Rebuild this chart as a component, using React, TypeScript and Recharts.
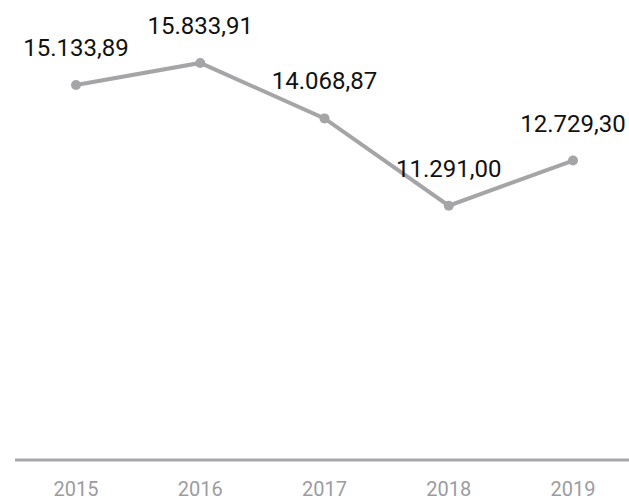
import React from "react";
import { LineChart, Line, XAxis, YAxis, LabelList } from "recharts";

const years = ["2015", "2016", "2017", "2018", "2019"];
const values = [15133.89, 15833.91, 14068.87, 11291.0, 12729.3];
const valueLabels = ["15.133,89", "15.833,91", "14.068,87", "11.291,00", "12.729,30"];

const data = years.map((y, i) => ({ year: y, value: values[i], label: valueLabels[i] }));

const FONT = 'Roboto, "Liberation Sans", sans-serif';

export default function App() {
  return (
    <div style={{ position: "absolute", left: 0, top: 0, width: 629, height: 502 }}>
      <LineChart
        width={629}
        height={502}
        data={data}
        margin={{ top: 42, right: 0, bottom: 0, left: 15 }}
      >
        <XAxis
          dataKey="year"
          axisLine={{ stroke: "#a8a8ab", strokeWidth: 3 }}
          tickLine={false}
          tickSize={6}
          tickMargin={16}
          height={42}
          interval={0}
          padding={{ left: 61, right: 56 }}
          tick={{ fill: "#9c9ca0", fontSize: 20, fontFamily: FONT }}
        />
        <YAxis hide domain={[3200, 16500]} />
        <Line
          dataKey="value"
          stroke="#a5a5a8"
          strokeWidth={4}
          dot={{ r: 5, fill: "#a5a5a8", stroke: "#a5a5a8", strokeWidth: 0 }}
          isAnimationActive={false}
        >
          <LabelList
            dataKey="label"
            position="top"
            offset={29}
            style={{ fill: "#111", fontSize: 24, fontFamily: FONT }}
          />
        </Line>
      </LineChart>
    </div>
  );
}
